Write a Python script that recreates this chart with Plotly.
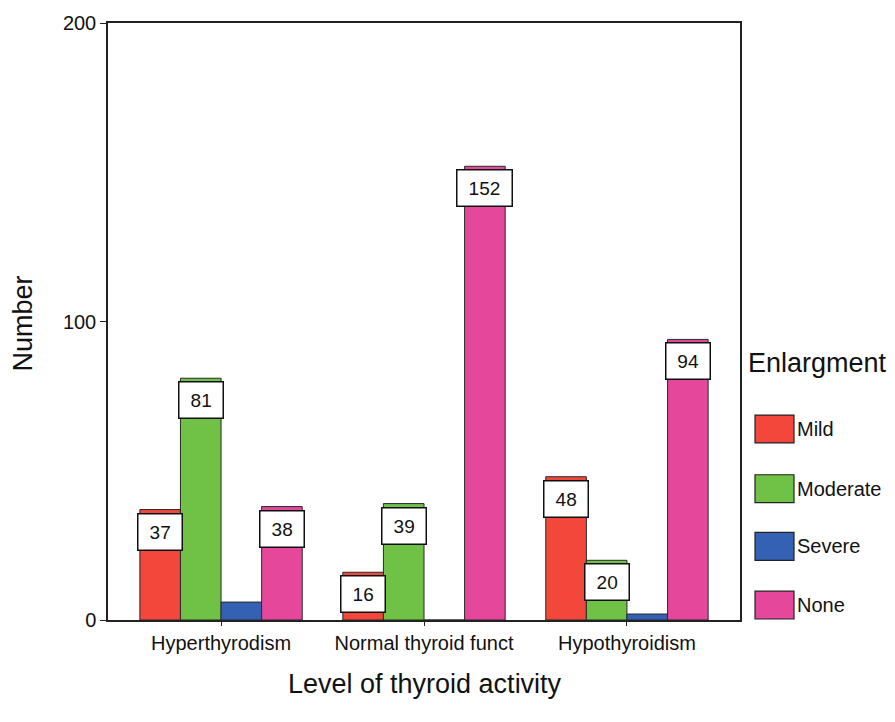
import plotly.graph_objects as go

# Thyroid activity groups and goitre enlargement counts
categories = ["Hyperthyrodism", "Normal thyroid funct", "Hypothyroidism"]
series_names = ["Mild", "Moderate", "Severe", "None"]
mild = [37, 16, 48]
moderate = [81, 39, 20]
severe = [6, 0, 2]
none_ = [38, 152, 94]
series_values = [mild, moderate, severe, none_]
series_labelled = [True, True, False, True]
y_ticks = [0, 100, 200]

colors = ["#f4473b", "#6fc246", "#3461b4", "#e5479b"]
FONT = "Liberation Sans, Arial, sans-serif"

bar_w = 0.2
offsets = [-0.4, -0.2, 0.0, 0.2]

fig = go.Figure()
for name, vals, col, off in zip(series_names, series_values, colors, offsets):
    fig.add_trace(go.Bar(
        x=categories, y=vals, name=name,
        marker=dict(color=col, line=dict(color="#2a2a2a", width=1)),
        width=bar_w, offset=off, showlegend=False,
    ))

annotations = []
shapes = []
# value boxes sitting on top of each labelled bar; box grows with the digit count
LABEL_SIZE = 19
for vals, off, lab in zip(series_values, offsets, series_labelled):
    if not lab:
        continue
    for i, v in enumerate(vals):
        xc = i + off + bar_w / 2
        txt = str(v)
        annotations.append(dict(
            x=xc, y=v, xref="x", yref="y", text=txt, showarrow=False,
            xanchor="center", yanchor="top", yshift=-3,
            width=20 + 0.56 * LABEL_SIZE * len(txt), height=33,
            bgcolor="white", bordercolor="#111", borderwidth=1.5, borderpad=1,
            font=dict(family=FONT, size=LABEL_SIZE, color="#111"),
        ))

# legend drawn with large swatches
leg_x0, leg_x1 = 755, 794
leg_top = [414, 474, 532, 591]
W, H = 895, 722
for name, col, top in zip(series_names, colors, leg_top):
    shapes.append(dict(
        type="rect", xref="paper", yref="paper",
        x0=(leg_x0 - 108) / (740 - 108), x1=(leg_x1 - 108) / (740 - 108),
        y0=(620 - top) / 600, y1=(620 - top - 28) / 600,
        fillcolor=col, line=dict(color="#222", width=1.2),
    ))
    annotations.append(dict(
        x=(795 - 108) / 632, y=(620 - top - 14) / 600, xref="paper", yref="paper",
        text=name, showarrow=False, xanchor="left", yanchor="middle",
        font=dict(family=FONT, size=20, color="#111"),
    ))
annotations.append(dict(
    x=(746 - 108) / 632, y=(620 - 362) / 600, xref="paper", yref="paper",
    text="Enlargment", showarrow=False, xanchor="left", yanchor="middle",
    font=dict(family=FONT, size=27, color="#111"),
))
# axis titles
annotations.append(dict(
    x=(425 - 108) / 632, y=(620 - 684) / 600, xref="paper", yref="paper",
    text="Level of thyroid activity", showarrow=False, xanchor="center", yanchor="middle",
    font=dict(family=FONT, size=27, color="#111"),
))
annotations.append(dict(
    x=(23 - 108) / 632, y=(620 - 322) / 600, xref="paper", yref="paper",
    text="Number", showarrow=False, xanchor="center", yanchor="middle", textangle=-90,
    font=dict(family=FONT, size=27, color="#111"),
))

fig.update_layout(
    width=W, height=H,
    margin=dict(l=108, r=155, t=20, b=102),
    paper_bgcolor="white", plot_bgcolor="white",
    barmode="overlay",
    annotations=annotations, shapes=shapes,
    xaxis=dict(
        type="category", range=[-0.557, 2.557],
        showline=True, linecolor="#222", linewidth=1.5, mirror=True,
        ticks="outside", ticklen=4, tickcolor="#222", showgrid=False,
        tickfont=dict(family=FONT, size=20, color="#111"),
    ),
    yaxis=dict(
        range=[0, 200], tickvals=y_ticks,
        showline=True, linecolor="#222", linewidth=1.5, mirror=True,
        ticks="outside", ticklen=6, tickcolor="#222", showgrid=False, zeroline=False,
        tickfont=dict(family=FONT, size=20, color="#111"),
    ),
)

fig.write_html("out.html")
